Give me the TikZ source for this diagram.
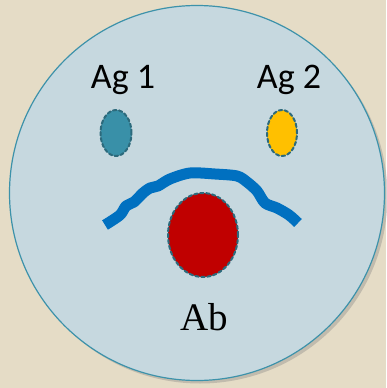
\documentclass[tikz,border=0pt]{standalone}
\usepackage{fontspec}
\usetikzlibrary{shapes.geometric,shadows}
\newfontfamily\labelfont{Carlito}
\newfontfamily\abfont{Liberation Serif}
\definecolor{paper}{HTML}{E5DCC6}
\definecolor{cellfill}{HTML}{C6D8DF}
\definecolor{cellrim}{HTML}{3D92AA}
\definecolor{dashrim}{HTML}{2C6A7C}
\definecolor{agone}{HTML}{3990A8}
\definecolor{agtwo}{HTML}{FFC000}
\definecolor{abred}{HTML}{C00000}
\definecolor{bond}{HTML}{0070C0}
\tikzset{
  blob/.style={ellipse,inner sep=0pt,draw=dashrim,line width=2pt,dash pattern=on 3.5pt off 2.5pt},
  aglabel/.style={font=\labelfont\fontsize{36}{38}\selectfont,inner sep=0pt},
}
\begin{document}
\begin{tikzpicture}[x=1pt,y=-1pt,line cap=round,line join=round]
  \fill[paper] (0,0) rectangle (386,388);
  \useasboundingbox (0,0) rectangle (386,388);
  % the cell
  \node[circle,minimum size=375pt,inner sep=0pt,fill=cellfill,draw=cellrim,line width=1.2pt,
        drop shadow={shadow xshift=3pt,shadow yshift=-3pt,opacity=0.35}] (cell) at (197,193) {};
  % antigens
  \node[aglabel] (ag1) at (123,80) {Ag 1};
  \node[aglabel] (ag2) at (289,80) {Ag 2};
  \node[blob,fill=agone,minimum width=31pt,minimum height=46pt] (ag1blob) at (116,133) {};
  \node[blob,fill=agtwo,minimum width=30pt,minimum height=46pt] (ag2blob) at (282,133) {};
  % antibody
  \draw[bond,line width=11pt,line cap=butt] plot[smooth,tension=0.5] coordinates {
    (105,225) (120,215) (126,206) (134,202) (143,193) (150,188) (158,186)
    (170,179) (190,173) (215,174) (237,176) (247,182) (257,191) (265,203)
    (277,208) (289,215) (298,223)};
  \node[blob,fill=abred,minimum width=70pt,minimum height=84pt] (abblob) at (203,235) {};
  \node[font=\abfont\fontsize{39}{41}\selectfont,inner sep=0pt] (ab) at (204,317) {Ab};
\end{tikzpicture}
\end{document}
